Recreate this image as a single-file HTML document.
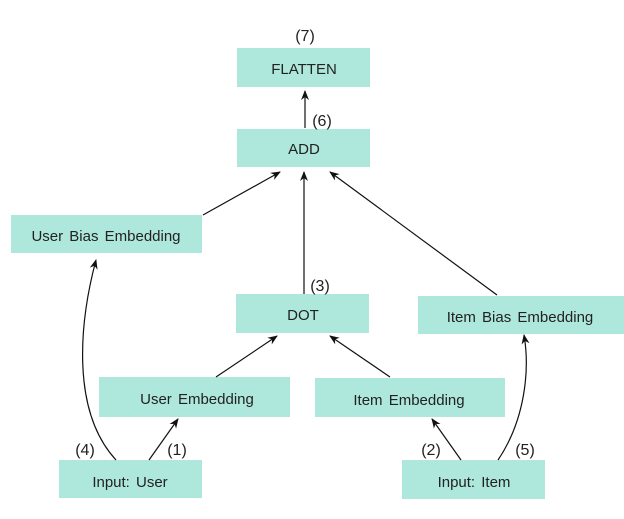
<!DOCTYPE html>
<html><head><style>
body{margin:0;background:#fff;}
svg text{font-family:"Liberation Sans",sans-serif;font-size:15px;fill:#222;word-spacing:2px;}
svg text.n{font-size:16px;}
</style></head><body>
<svg width="624" height="514" viewBox="0 0 624 514" xmlns="http://www.w3.org/2000/svg">
<defs><marker id="a" markerWidth="10" markerHeight="10" refX="9" refY="5" orient="auto" markerUnits="userSpaceOnUse"><path d="M0,1 L10,5 L0,9 L3,5 z" fill="#111"/></marker></defs>
<g fill="#aee8dc">
<rect x="237" y="48" width="133" height="39"/>
<rect x="237" y="129" width="133" height="38"/>
<rect x="11" y="215" width="191" height="38"/>
<rect x="236" y="294" width="133" height="39"/>
<rect x="418" y="296" width="206" height="38"/>
<rect x="99" y="377" width="191" height="40"/>
<rect x="315" y="378" width="190" height="39"/>
<rect x="59" y="460" width="143" height="38"/>
<rect x="402" y="460" width="143" height="39"/>
</g>
<g text-anchor="middle">
<text x="304" y="74">FLATTEN</text>
<text x="304" y="154">ADD</text>
<text x="106" y="241">User Bias Embedding</text>
<text x="303" y="320">DOT</text>
<text x="520" y="322">Item Bias Embedding</text>
<text x="197" y="404">User Embedding</text>
<text x="409" y="405">Item Embedding</text>
<text x="130" y="487">Input: User</text>
<text x="474" y="487">Input: Item</text>
<text class="n" x="305" y="41">(7)</text>
<text class="n" x="322" y="126">(6)</text>
<text class="n" x="320" y="291">(3)</text>
<text class="n" x="85" y="455">(4)</text>
<text class="n" x="177" y="455">(1)</text>
<text class="n" x="431" y="455">(2)</text>
<text class="n" x="525" y="455">(5)</text>
</g>
<g stroke="#111" stroke-width="1.2" fill="none" marker-end="url(#a)">
<line x1="305" y1="128" x2="305" y2="91"/>
<line x1="203" y1="215" x2="280" y2="172"/>
<line x1="304" y1="294" x2="304" y2="172"/>
<line x1="497" y1="295" x2="330" y2="172"/>
<line x1="216" y1="377" x2="277" y2="336"/>
<line x1="390" y1="377" x2="330" y2="336"/>
<line x1="149" y1="460" x2="178" y2="419"/>
<line x1="461" y1="460" x2="432" y2="419"/>
<path d="M116,460 C70,410 80,320 96,260"/>
<path d="M498,460 C525,420 530,370 524,335"/>
</g>
</svg>
</body></html>
